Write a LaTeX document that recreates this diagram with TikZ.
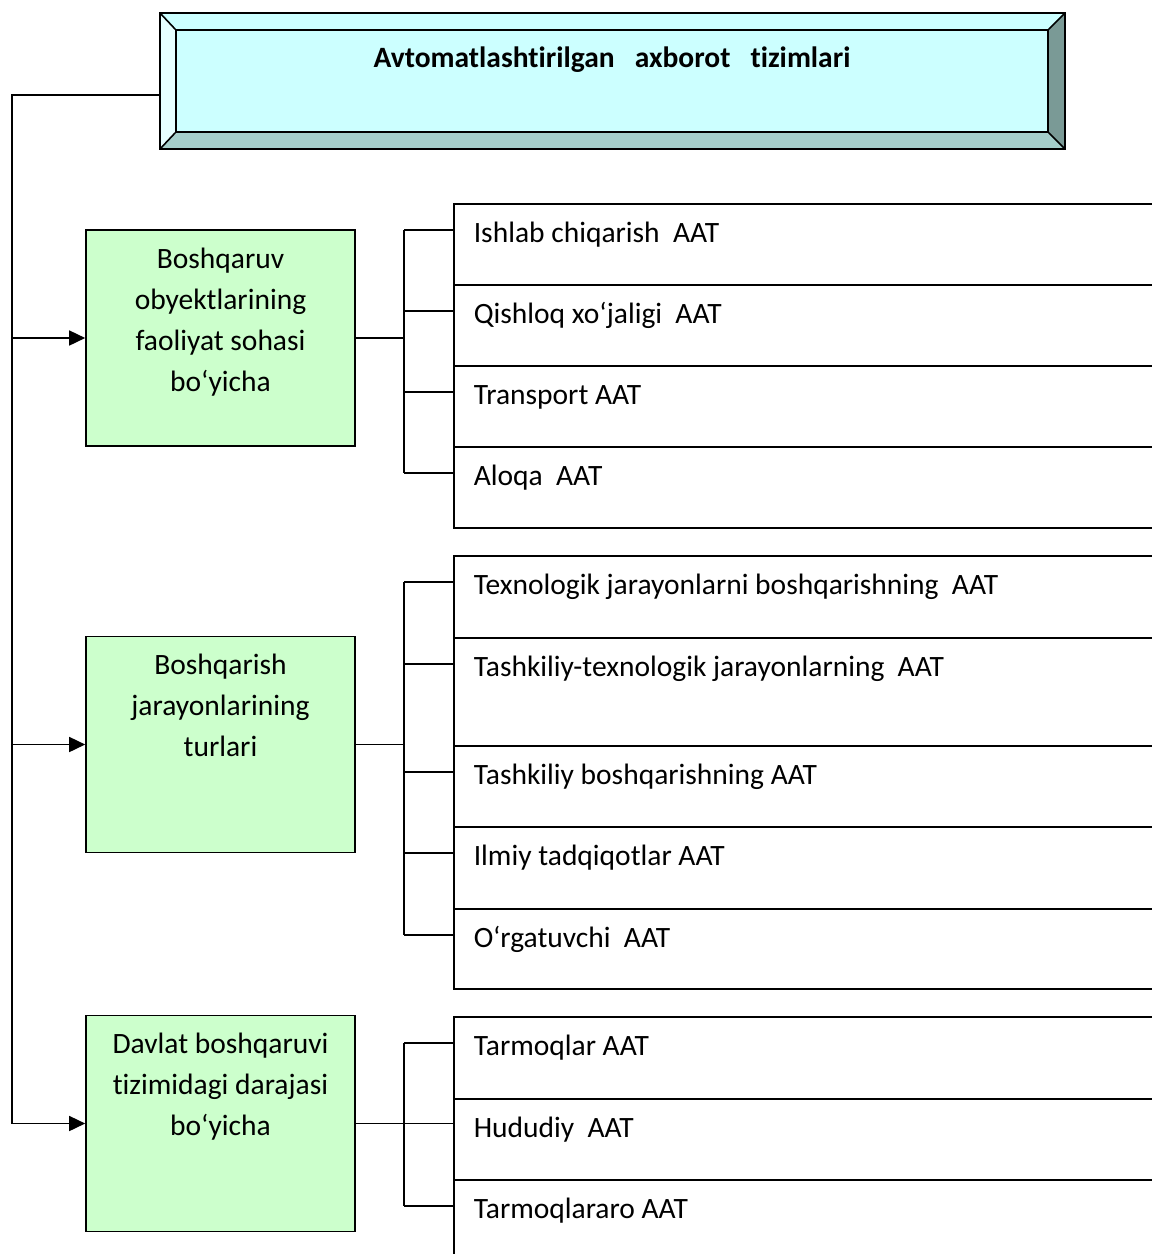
\documentclass[tikz,border=0pt]{standalone}
\usepackage{fontspec}
\setmainfont{Carlito}[Ligatures=NoCommon]
\usetikzlibrary{arrows.meta,positioning}
\definecolor{bevelface}{HTML}{CCFFFF}
\definecolor{bevellight}{HTML}{E6FFFF}
\definecolor{bevelbottom}{HTML}{A5CFCB}
\definecolor{bevelright}{HTML}{7A9A96}
\definecolor{greenfill}{HTML}{CCFFCC}

\begin{document}
\begin{tikzpicture}[x=1pt,y=-1pt,line width=1.6pt,
  conn/.style={line width=1.4pt},
  arr/.style={line width=1.6pt,-{Triangle[length=16pt,width=15pt]}},
  gbox/.style={draw,fill=greenfill,minimum width=269pt,minimum height=216pt,inner sep=0pt},
  gtext/.style={align=center,font=\fontsize{29.5}{41}\selectfont,inner sep=0pt},
  rbox/.style={draw,anchor=north west,minimum width=760pt,inner sep=0pt},
  rtext/.style={anchor=west,font=\fontsize{29.5}{35}\selectfont,inner sep=0pt,
    text height=30pt,text depth=6pt}]
\useasboundingbox (0,0) rectangle (1152,1254);
\clip (0,0) rectangle (1152,1254);
% banner
\fill[bevelface] (160,13) -- (1065,13) -- (1048,30) -- (176,30) -- cycle;
\fill[bevellight] (160,13) -- (176,30) -- (176,132) -- (160,149) -- cycle;
\fill[bevelbottom] (160,149) -- (176,132) -- (1048,132) -- (1065,149) -- cycle;
\fill[bevelright] (1065,13) -- (1048,30) -- (1048,132) -- (1065,149) -- cycle;
\node[draw,fill=bevelface,minimum width=872pt,minimum height=102pt,inner sep=0pt] (top) at (612,81) {};
\draw (160,13) rectangle (1065,149);
\draw (160,13) -- (top.north west) (1065,13) -- (top.north east)
  (160,149) -- (top.south west) (1065,149) -- (top.south east);
\node[font=\fontsize{29.5}{35}\selectfont\bfseries,inner sep=0pt,below=17pt of top.north] (title)
  {Avtomatlashtirilgan~~ axborot~~ tizimlari};
% green boxes
\node[gbox] (g1) at (220.5,338) {};
\node[gbox] (g2) at (220.5,744.5) {};
\node[gbox] (g3) at (220.5,1123.5) {};
\node[gtext,below=18pt of g1.north] {Boshqaruv\\obyektlarining\\faoliyat sohasi\\bo‘yicha};
\node[gtext,below=18pt of g2.north] {Boshqarish\\jarayonlarining\\turlari};
\node[gtext,below=18pt of g3.north] {Davlat boshqaruvi\\tizimidagi darajasi\\bo‘yicha};
% right boxes
\node[rbox,minimum height=81pt] (b11) at (453,203) {};
\node[rbox,minimum height=81pt] (b12) at (453,284) {};
\node[rbox,minimum height=81pt] (b13) at (453,365) {};
\node[rbox,minimum height=81pt] (b14) at (453,446) {};
\node[rbox,minimum height=82pt] (b21) at (453,555) {};
\node[rbox,minimum height=108pt] (b22) at (453,637) {};
\node[rbox,minimum height=81pt] (b23) at (453,745) {};
\node[rbox,minimum height=82pt] (b24) at (453,826) {};
\node[rbox,minimum height=80pt] (b25) at (453,908) {};
\node[rbox,minimum height=82pt] (b31) at (453,1016) {};
\node[rbox,minimum height=81pt] (b32) at (453,1098) {};
\node[rbox,minimum height=90pt] (b33) at (453,1179) {};
\node[rtext] (t11) at ([shift={(20,27)}]b11.north west) {Ishlab chiqarish~ AAT};
\node[rtext] (t12) at ([shift={(20,27)}]b12.north west) {Qishloq xo‘jaligi~ AAT};
\node[rtext] (t13) at ([shift={(20,27)}]b13.north west) {Transport AAT};
\node[rtext] (t14) at ([shift={(20,27)}]b14.north west) {Aloqa~ AAT};
\node[rtext] (t21) at ([shift={(20,27)}]b21.north west) {Texnologik jarayonlarni boshqarishning~ AAT};
\node[rtext] (t22) at ([shift={(20,27)}]b22.north west) {Tashkiliy-texnologik jarayonlarning~ AAT};
\node[rtext] (t23) at ([shift={(20,27)}]b23.north west) {Tashkiliy boshqarishning AAT};
\node[rtext] (t24) at ([shift={(20,27)}]b24.north west) {Ilmiy tadqiqotlar AAT};
\node[rtext] (t25) at ([shift={(20,27)}]b25.north west) {O‘rgatuvchi~ AAT};
\node[rtext] (t31) at ([shift={(20,27)}]b31.north west) {Tarmoqlar AAT};
\node[rtext] (t32) at ([shift={(20,27)}]b32.north west) {Hududiy~ AAT};
\node[rtext] (t33) at ([shift={(20,27)}]b33.north west) {Tarmoqlararo AAT};
% brackets
\coordinate (k1) at (404,0);
\draw[conn] (k1 |- t11) -- (k1 |- t14);
\draw[conn] (k1 |- t11) -- (b11.west |- t11);
\draw[conn] (k1 |- t12) -- (b12.west |- t12);
\draw[conn] (k1 |- t13) -- (b13.west |- t13);
\draw[conn] (k1 |- t14) -- (b14.west |- t14);
\draw[conn] (g1.east) -- (k1 |- g1.east);
\draw[conn] (k1 |- t21) -- (k1 |- t25);
\draw[conn] (k1 |- t21) -- (b21.west |- t21);
\draw[conn] (k1 |- t22) -- (b22.west |- t22);
\draw[conn] (k1 |- t23) -- (b23.west |- t23);
\draw[conn] (k1 |- t24) -- (b24.west |- t24);
\draw[conn] (k1 |- t25) -- (b25.west |- t25);
\draw[conn] (g2.east) -- (k1 |- g2.east);
\draw[conn] (k1 |- t31) -- (k1 |- t33);
\draw[conn] (k1 |- t31) -- (b31.west |- t31);
\draw[conn] (k1 |- t33) -- (b33.west |- t33);
\draw[conn] (g3.east) -- (b32.west |- g3.east);
% spine
\coordinate (bn) at (160,95);
\coordinate (sp) at (12,0);
\draw[conn] (bn) -- (sp |- bn) -- (sp |- g3.west);
\draw[arr] (sp |- g1.west) -- (g1.west);
\draw[arr] (sp |- g2.west) -- (g2.west);
\draw[arr] (sp |- g3.west) -- (g3.west);
\end{tikzpicture}
\end{document}
